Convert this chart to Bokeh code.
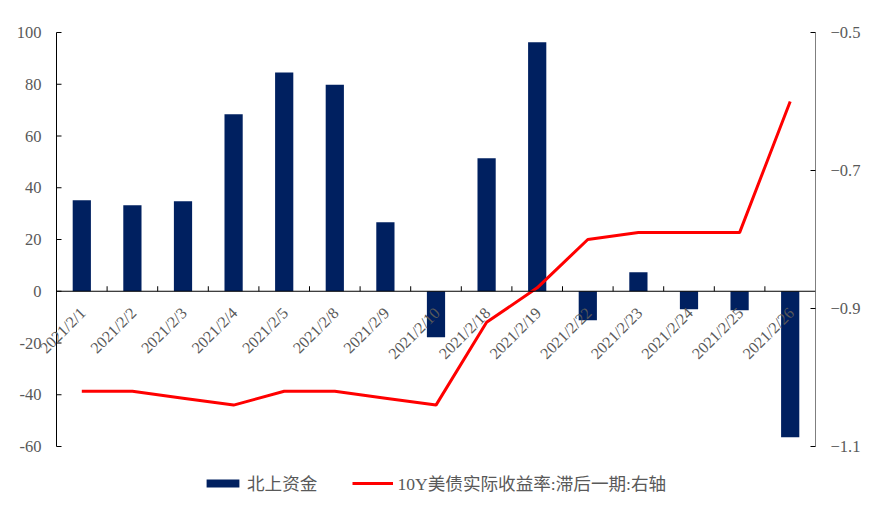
import math
from bokeh.plotting import figure
from bokeh.layouts import column
from bokeh.models import (Range1d, LinearAxis, FixedTicker, Legend, LegendItem, ColumnDataSource)
from bokeh.core.properties import value
from bokeh.embed import file_html
from bokeh.resources import INLINE

dates = ["2021/2/1", "2021/2/2", "2021/2/3", "2021/2/4", "2021/2/5", "2021/2/8", "2021/2/9",
         "2021/2/10", "2021/2/18", "2021/2/19", "2021/2/22", "2021/2/23", "2021/2/24",
         "2021/2/25", "2021/2/26"]
northbound = [35.2, 33.2, 34.8, 68.4, 84.5, 79.8, 26.7, -17.8, 51.4, 96.2, -11.2, 7.3, -7.0, -7.3, -56.4]
real_yield = [-1.02, -1.02, -1.03, -1.04, -1.02, -1.02, -1.03, -1.04, -0.92, -0.87, -0.80, -0.79, -0.79, -0.79, -0.60]
left_ticks = [-60, -40, -20, 0, 20, 40, 60, 80, 100]
left_tick_labels = ["-60", "-40", "-20", "0", "20", "40", "60", "80", "100"]
right_ticks = [-1.1, -0.9, -0.7, -0.5]
series_names = ["北上资金", "10Y美债实际收益率:滞后一期:右轴"]

FONT = "Liberation Serif"
CJK = "Liberation Serif, Noto Sans CJK SC"
TXT = "#595959"
NAVY = "#002060"
RED = "#FF0000"

n = len(dates)
PLOT_W = 759          # pixel width of the category area
PLOT_H = 414          # pixel height of the value area
LEFT_PAD = 48         # extra frame room on the left for the left-axis labels
V_PAD = 10            # extra frame room above/below so end labels are not clipped
cat_px = PLOT_W / n
pad_units = LEFT_PAD / cat_px
tick_len_x = 5 / cat_px
lmin, lmax = left_ticks[0], left_ticks[-1]
rmin, rmax = right_ticks[0], right_ticks[-1]
pad_l = V_PAD * (lmax - lmin) / PLOT_H
pad_r = V_PAD * (rmax - rmin) / PLOT_H
tick_len_y = 5 * (lmax - lmin) / PLOT_H

xs = [i + 0.5 for i in range(n)]
src = ColumnDataSource(dict(x=xs, bar=northbound, line=real_yield, label=dates, zero=[0] * n))
lsrc = ColumnDataSource(dict(y=left_ticks, t=left_tick_labels, x0=[0] * len(left_ticks),
                             x1=[tick_len_x] * len(left_ticks)))

p = figure(frame_width=PLOT_W + LEFT_PAD, frame_height=PLOT_H + 2 * V_PAD,
           output_backend="svg", toolbar_location=None,
           x_range=Range1d(-pad_units, n), y_range=Range1d(lmin - pad_l, lmax + pad_l),
           x_axis_location=None, y_axis_location=None,
           min_border_left=8, min_border_top=22, min_border_right=51, min_border_bottom=2)
p.extra_y_ranges = {"r": Range1d(rmin - pad_r, rmax + pad_r)}
p.outline_line_color = None
p.xgrid.visible = False
p.ygrid.visible = False

p.vbar(x="x", top="bar", bottom=0, width=0.36, source=src, fill_color=NAVY, line_color=None)
p.line(x="x", y="line", source=src, line_color=RED, line_width=3, y_range_name="r")

# left axis drawn inside the frame
p.segment(x0=[0], x1=[0], y0=[lmin], y1=[lmax], line_color="black", line_width=1)
p.segment(x0="x0", x1="x1", y0="y", y1="y", source=lsrc, line_color="black", line_width=1)
p.text(x="x0", y="y", text="t", source=lsrc, text_align="right", text_baseline="middle",
       x_offset=-15, text_font=value(FONT), text_font_size="16.5px", text_color=TXT)

# right axis (line drawn as segment so it spans exactly the value range)
p.segment(x0=[n], x1=[n], y0=[lmin], y1=[lmax], line_color="black", line_width=1)
ra = LinearAxis(y_range_name="r", ticker=FixedTicker(ticks=right_ticks))
ra.major_tick_in = 5
ra.major_tick_out = 0
ra.minor_tick_line_color = None
ra.axis_line_color = None
ra.major_tick_line_color = "black"
ra.major_label_text_font = FONT
ra.major_label_text_font_size = "16.5px"
ra.major_label_text_color = TXT
ra.major_label_standoff = 15
p.add_layout(ra, "right")

# category axis along zero
bounds = list(range(1, n))
p.segment(x0=[0], x1=[n], y0=[0], y1=[0], line_color="black", line_width=1)
p.segment(x0=bounds, x1=bounds, y0=[0] * len(bounds), y1=[tick_len_y] * len(bounds),
          line_color="black", line_width=1)

# rotated category labels
p.text(x="x", y="zero", text="label", source=src, angle=math.pi / 4,
       text_align="right", text_baseline="middle", x_offset=1, y_offset=19,
       text_font=value(FONT), text_font_size="16px", text_color=TXT)

# legend strip (own small figure so it is not clipped by the plot frame)
lg = figure(width=866, height=48, output_backend="svg", toolbar_location=None,
            x_range=Range1d(-300, -299), y_range=Range1d(1000, 1001),
            x_axis_location=None, y_axis_location=None,
            min_border_left=8, min_border_right=51, min_border_top=0, min_border_bottom=0)
lg.outline_line_color = None
lg.xgrid.visible = False
lg.ygrid.visible = False
bar_proxy = lg.vbar(x="x", top="bar", width=0.36, source=src, fill_color=NAVY, line_color=None)
line_proxy = lg.line(x="x", y="line", source=src, line_color=RED, line_width=3)
legend = Legend(items=[LegendItem(label=series_names[0], renderers=[bar_proxy]),
                       LegendItem(label=series_names[1], renderers=[line_proxy])],
                orientation="horizontal", location=(194, 11),
                label_text_font=CJK, label_text_font_size="17.6px", label_text_color=TXT,
                glyph_width=41, glyph_height=10, spacing=35, label_standoff=4,
                border_line_color=None, background_fill_alpha=0, padding=0, margin=0)
lg.add_layout(legend, "center")

open("out.html", "w").write(file_html(column(p, lg, spacing=0), INLINE))
